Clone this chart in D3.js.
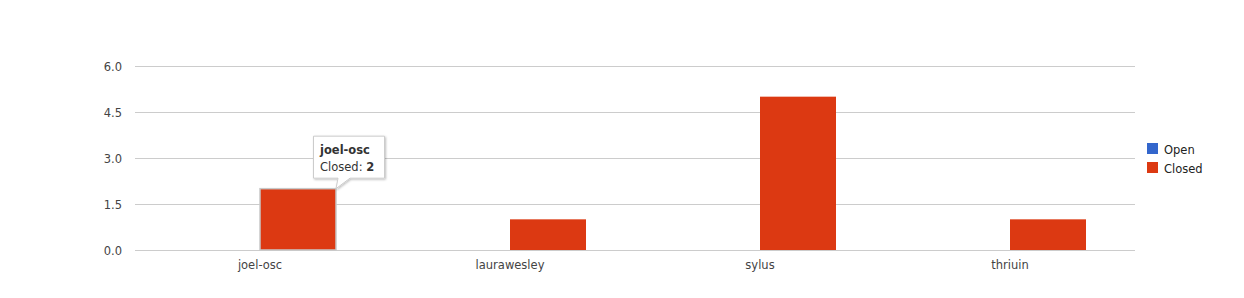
<!DOCTYPE html>
<html>
<head>
<meta charset="utf-8">
<script src="https://d3js.org/d3.v7.min.js"></script>
<style>
  body { margin: 0; background: #fff; }
  text { font-family: "DejaVu Sans", "Liberation Sans", Arial, sans-serif; }
</style>
</head>
<body>
<script>
var svgWidth = 1244;
var svgHeight = 298;

var margin = { top: 66, right: 109, bottom: 48, left: 135 };
var width = svgWidth - margin.left - margin.right;
var height = svgHeight - margin.top - margin.bottom;

// data
var users = ["joel-osc", "laurawesley", "sylus", "thriuin"];
var seriesNames = ["Open", "Closed"];
var openCounts = [0, 0, 0, 0];
var closedCounts = [2, 1, 5, 1];
var yTicks = [0, 1.5, 3, 4.5, 6];
var colors = ["#3366cc", "#dc3912"];

// hovered bar + tooltip
var hoverUser = "joel-osc";
var hoverSeries = "Closed";

var rows = users.map(function(u, i) {
  return { user: u, Open: openCounts[i], Closed: closedCounts[i] };
});

var svg = d3.select("body")
  .append("svg")
  .attr("width", svgWidth)
  .attr("height", svgHeight);

var chartGroup = svg.append("g")
  .attr("transform", `translate(${margin.left}, ${margin.top})`);

var x0 = d3.scaleBand()
  .domain(users)
  .range([0, width])
  .paddingInner(0.392)
  .paddingOuter(0.196);

var x1 = d3.scaleBand()
  .domain(seriesNames)
  .range([0, x0.bandwidth()]);

var y = d3.scaleLinear()
  .domain([0, 6])
  .range([height, 0]);

var color = d3.scaleOrdinal().domain(seriesNames).range(colors);

// gridlines
chartGroup.append("g")
  .selectAll("line")
  .data(yTicks)
  .enter()
  .append("line")
  .attr("x1", 0)
  .attr("x2", width)
  .attr("y1", d => Math.round(y(d)) + 0.5)
  .attr("y2", d => Math.round(y(d)) + 0.5)
  .attr("stroke", "#cccccc");

// y axis labels
var leftAxis = d3.axisLeft(y)
  .tickValues(yTicks)
  .tickFormat(d3.format(".1f"))
  .tickSize(0)
  .tickPadding(13);

chartGroup.append("g")
  .call(leftAxis)
  .call(g => g.select(".domain").remove())
  .selectAll("text")
  .attr("dy", "0.42em")
  .attr("font-size", "11.5px")
  .attr("fill", "#444");

// bars
var groups = chartGroup.selectAll(".grp")
  .data(rows)
  .enter()
  .append("g")
  .attr("class", "grp")
  .attr("transform", d => `translate(${x0(d.user)}, 0)`);

groups.selectAll("rect")
  .data(d => seriesNames.map(s => ({ user: d.user, key: s, value: d[s] })))
  .enter()
  .append("rect")
  .attr("x", d => x1(d.key))
  .attr("y", d => y(d.value))
  .attr("width", x1.bandwidth())
  .attr("height", d => height - y(d.value))
  .attr("fill", d => color(d.key))
  .attr("stroke", d => (d.user === hoverUser && d.key === hoverSeries) ? "#c8c8c8" : "none")
  .attr("stroke-width", 1.5);

// x axis labels
var bottomAxis = d3.axisBottom(x0).tickSize(0).tickPadding(11);

chartGroup.append("g")
  .attr("transform", `translate(0, ${height})`)
  .call(bottomAxis)
  .call(g => g.select(".domain").remove())
  .selectAll("text")
  .attr("font-size", "11.5px")
  .attr("fill", "#444");

// legend
var legend = svg.append("g")
  .attr("transform", "translate(1147, 143)");

var item = legend.selectAll("g")
  .data(seriesNames)
  .enter()
  .append("g")
  .attr("transform", (d, i) => `translate(0, ${i * 19})`);

item.append("rect")
  .attr("width", 11)
  .attr("height", 11)
  .attr("fill", d => color(d));

item.append("text")
  .attr("x", 17)
  .attr("y", 10.5)
  .attr("font-size", "11.5px")
  .attr("fill", "#222")
  .text(d => d);

// tooltip for hovered bar
var hi = users.indexOf(hoverUser);
var hv = rows[hi][hoverSeries];
var barRight = margin.left + x0(hoverUser) + x1(hoverSeries) + x1.bandwidth();
var barTop = margin.top + y(hv);

var tip = svg.append("g")
  .attr("transform", `translate(${barRight - 23}, ${barTop - 53})`);

var defs = svg.append("defs");
var f = defs.append("filter").attr("id", "shadow").attr("x", "-20%").attr("y", "-20%")
  .attr("width", "140%").attr("height", "150%");
f.append("feDropShadow").attr("dx", 1).attr("dy", 1).attr("stdDeviation", 1.2)
  .attr("flood-color", "#000").attr("flood-opacity", 0.25);

tip.append("path")
  .attr("d", "M0.5,0.5 H71.5 V42.5 H37 L23,53 L25,42.5 H0.5 Z")
  .attr("fill", "#fff")
  .attr("stroke", "#cccccc")
  .attr("filter", "url(#shadow)");

tip.append("text")
  .attr("x", 7)
  .attr("y", 18)
  .attr("font-size", "11.5px")
  .attr("font-weight", "bold")
  .attr("fill", "#333")
  .text(hoverUser);

var line2 = tip.append("text")
  .attr("x", 7)
  .attr("y", 35)
  .attr("font-size", "11.5px")
  .attr("fill", "#333");
line2.append("tspan").text(hoverSeries + ": ");
line2.append("tspan").attr("font-weight", "bold").text(hv);
</script>
</body>
</html>
